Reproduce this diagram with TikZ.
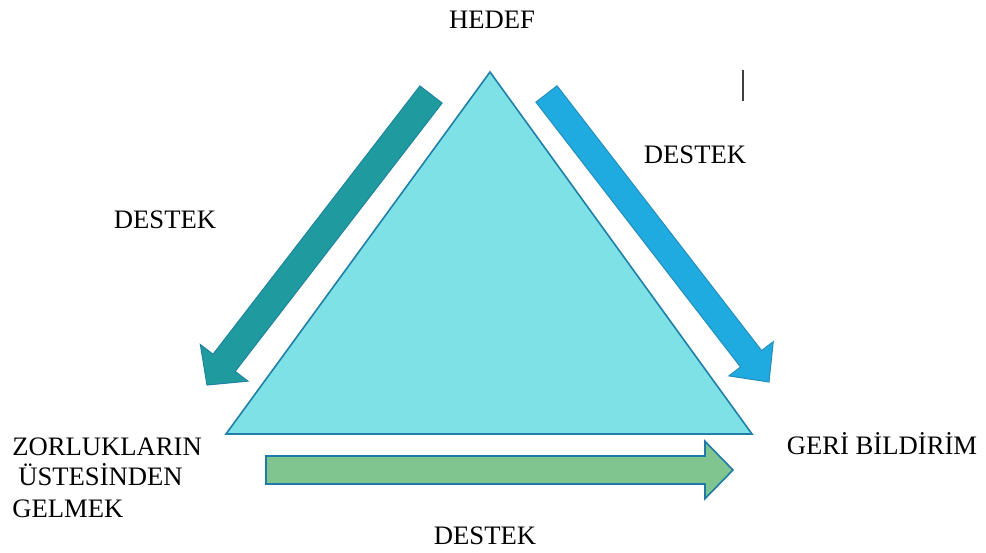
\documentclass[tikz,border=0pt]{standalone}
\usepackage{fontspec}
\setmainfont{Liberation Serif}
\usetikzlibrary{calc}
\definecolor{trifill}{HTML}{7DE1E6}
\definecolor{triline}{HTML}{1E7FA8}
\definecolor{tealarrow}{HTML}{1F9BA0}
\definecolor{tealline}{HTML}{1F85A0}
\definecolor{bluearrow}{HTML}{1FABE0}
\definecolor{blueline}{HTML}{2590C0}
\definecolor{greenarrow}{HTML}{80C490}
\definecolor{greenline}{HTML}{1F7BA5}
\tikzset{
  lbl/.style={font=\fontsize{20}{24}\selectfont, inner sep=0pt, anchor=base},
  tri/.style={fill=trifill, draw=triline, line width=1.2pt, line join=miter},
  tealblk/.style={fill=tealarrow, draw=tealline, line width=0.8pt, line join=miter},
  blueblk/.style={fill=bluearrow, draw=blueline, line width=0.8pt, line join=miter},
  greenblk/.style={fill=greenarrow, draw=greenline, line width=1.2pt, line join=miter},
}
% #1 style, #2 tail, #3 tip, #4 half shaft width, #5 half head width, #6 head length
\newcommand{\blockarrowdraw}[6]{%
  \coordinate (neck) at ($(#3)!#6!(#2)$);
  \path[#1] ($(#2)!#4!90:(#3)$) -- ($(neck)!#4!90:(#3)$) -- ($(neck)!#5!90:(#3)$)
    -- (#3) -- ($(neck)!#5!-90:(#3)$) -- ($(neck)!#4!-90:(#3)$) -- ($(#2)!#4!-90:(#3)$) -- cycle;
}
\begin{document}
\begin{tikzpicture}[x=0.75pt, y=-0.75pt]
\useasboundingbox (0,0) rectangle (986,553);
% triangle
\coordinate (apex) at (490,72);
\coordinate (bl) at (226,434);
\coordinate (br) at (752,434);
\path[tri] (apex) -- (bl) -- (br) -- cycle;
% block arrows
\coordinate (lt) at (431,94.5);
\coordinate (lh) at (207,385);
\blockarrowdraw{tealblk}{lt}{lh}{10.5pt}{22.5pt}{21pt}
\coordinate (rt) at (546.5,94);
\coordinate (rh) at (769,382);
\blockarrowdraw{blueblk}{rt}{rh}{10pt}{21pt}{22pt}
\coordinate (bt) at (266,470);
\coordinate (bh) at (733,470);
\blockarrowdraw{greenblk}{bt}{bh}{10.5pt}{21.5pt}{21pt}
% cursor mark
\coordinate (c1) at (743,70);
\coordinate (c2) at (743,101);
\draw[color=black!75, line width=1.1pt] (c1) -- (c2);
% labels
\node[lbl] (hedef) at (492,28) {HEDEF};
\node[lbl] (dl) at (165,228) {DESTEK};
\node[lbl] (dr) at (695,163) {DESTEK};
\node[lbl] (db) at (485,544) {DESTEK};
\node[lbl] (geri) at (882,454) {GER\.I B\.ILD\.IR\.IM};
\node[lbl, anchor=base west] (z1) at (12,455) {ZORLUKLARIN};
\node[lbl, anchor=base west] (z2) at (18,485) {ÜSTES\.INDEN};
\node[lbl, anchor=base west] (z3) at (12,517) {GELMEK};
\end{tikzpicture}
\end{document}
